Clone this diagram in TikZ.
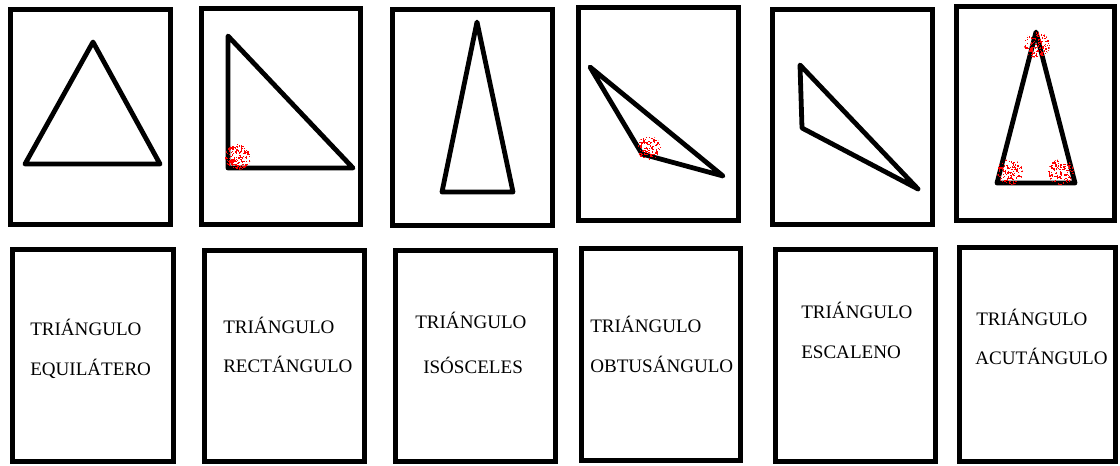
\documentclass[tikz,border=0pt]{standalone}
\usepackage{fontspec}
\setmainfont{Liberation Serif}
\usetikzlibrary{calc}

% red speckles marking an angle
\newcommand{\redspot}[3]{%
  \begin{scope}
    \clip (#1) circle (#2);
    \foreach \k in {1,...,#3}
      \fill[speck] ($(#1)+(rand*#2,rand*#2)$) rectangle ++(1.3,1.3);
  \end{scope}}

\begin{document}
\begin{tikzpicture}[x=0.75pt, y=-0.75pt,
    card/.style={draw, line width=3.75pt},
    tri/.style={draw, line width=3.6pt, line join=round, line cap=round},
    lbl/.style={anchor=base west, inner sep=0pt, font=\fontsize{14.3}{17}\selectfont},
    speck/.style={fill=red}
  ]
  \pgfmathsetseed{11}
  \fill[white] (0,0) rectangle (1120,465);
  \useasboundingbox (0,0) rectangle (1120,465);

  % top row: pictures
  \draw[card] (10.5,9.5) rectangle (170.5,224.5);
  \draw[card] (201.5,8.5) rectangle (360.5,224.5);
  \draw[card] (392.5,9.5) rectangle (552.5,225.5);
  \draw[card] (578.5,7.5) rectangle (738.5,220.5);
  \draw[card] (772.5,9.5) rectangle (932.5,224.5);
  \draw[card] (956.5,6.5) rectangle (1114.5,220.5);

  \draw[tri] (93,42) -- (25,164) -- (160,164) -- cycle;
  \draw[tri] (228,36) -- (228,168) -- (353,168) -- cycle;
  \draw[tri] (477,22) -- (442,192) -- (513,192) -- cycle;
  \draw[tri] (590,67) -- (642,154) -- (723,176) -- cycle;
  \draw[tri] (800,65) -- (802,128) -- (918,189) -- cycle;
  \draw[tri] (1036,32) -- (997,183) -- (1075,183) -- cycle;

  \redspot{238,157}{13}{190}
  \redspot{649,148}{12}{150}
  \redspot{1037,45}{13}{150}
  \redspot{1010,172}{13}{160}
  \redspot{1061,172}{13}{160}

  % bottom row: names
  \draw[card] (12.5,249.5) rectangle (173.5,461);
  \draw[card] (204.5,250.5) rectangle (364.5,461);
  \draw[card] (395.5,250.5) rectangle (555.5,461);
  \draw[card] (581.5,248.5) rectangle (740.5,460);
  \draw[card] (775.5,249.5) rectangle (935.5,461);
  \draw[card] (959.5,247.5) rectangle (1115.5,461);

  \node[lbl] (equiA) at (30,335) {TRIÁNGULO};
  \node[lbl] (equiB) at (30,375) {EQUILÁTERO};
  \node[lbl] (rectA) at (223,333) {TRIÁNGULO};
  \node[lbl] (rectB) at (223,372) {RECTÁNGULO};
  \node[lbl] (isosA) at (415,328) {TRIÁNGULO};
  \node[lbl] (isosB) at (423,373) {ISÓSCELES};
  \node[lbl] (obtuA) at (590,332) {TRIÁNGULO};
  \node[lbl] (obtuB) at (590,372) {OBTUSÁNGULO};
  \node[lbl] (escaA) at (801,318) {TRIÁNGULO};
  \node[lbl] (escaB) at (801,358) {ESCALENO};
  \node[lbl] (acutA) at (976,325) {TRIÁNGULO};
  \node[lbl] (acutB) at (975,364) {ACUTÁNGULO};
\end{tikzpicture}
\end{document}
